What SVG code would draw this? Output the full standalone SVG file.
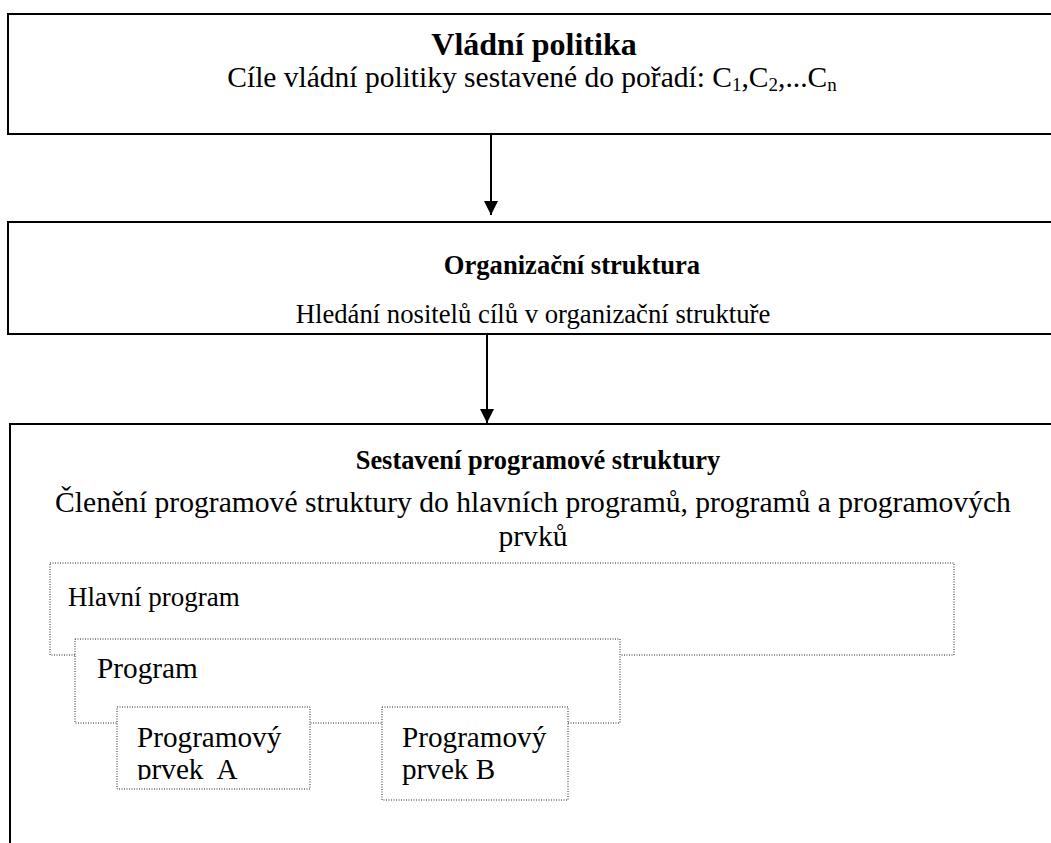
<svg xmlns="http://www.w3.org/2000/svg" width="1051" height="843" viewBox="0 0 1051 843">
  <style>
    .frame { fill: #fff; stroke: #000; stroke-width: 2; }
    .dot { fill: #fff; stroke: #222; stroke-width: 1; stroke-dasharray: 1 1.5; }
    .wire { stroke: #000; stroke-width: 2; fill: none; }
    text { font-family: "Liberation Serif", "Times New Roman", serif; fill: #000; }
    .b { font-weight: bold; }
  </style>
  <defs>
    <marker id="head" viewBox="0 0 14 14" markerWidth="14" markerHeight="14" refX="14" refY="7" orient="auto" markerUnits="userSpaceOnUse">
      <path d="M0,0 L14,7 L0,14 Z" fill="#000"/>
    </marker>
    <clipPath id="clipA">
      <rect x="117" y="707" width="193" height="73"/>
    </clipPath>
  </defs>
  <rect width="1051" height="843" fill="#fff"/>

  <!-- government policy -->
  <g id="vladni-politika">
    <rect class="frame" x="8" y="14" width="1060" height="120"/>
    <text class="b" x="534" y="55" font-size="32" text-anchor="middle">Vládní politika</text>
    <text x="532" y="87" font-size="29.5" text-anchor="middle">Cíle vládní politiky sestavené do pořadí: C<tspan font-size="19" dy="4">1</tspan><tspan dy="-4">,C</tspan><tspan font-size="19" dy="4">2</tspan><tspan dy="-4">,...C</tspan><tspan font-size="19" dy="4">n</tspan></text>
  </g>

  <!-- organisational structure -->
  <g id="organizacni-struktura">
    <rect class="frame" x="8" y="222" width="1060" height="112"/>
    <text class="b" x="572" y="274" font-size="26.6" text-anchor="middle">Organizační struktura</text>
    <text x="533" y="323" font-size="26.7" text-anchor="middle">Hledání nositelů cílů v organizační struktuře</text>
  </g>

  <!-- programme structure -->
  <g id="programova-struktura">
    <rect class="frame" x="10" y="424" width="1060" height="440"/>
    <text class="b" x="538" y="469" font-size="26.4" text-anchor="middle">Sestavení programové struktury</text>
    <text x="533" y="512" font-size="29.6" text-anchor="middle">Členění programové struktury do hlavních programů, programů a programových</text>
    <text x="533" y="546" font-size="29.6" text-anchor="middle">prvků</text>
  </g>

  <g id="hlavni-program">
    <rect class="dot" x="50" y="563" width="904" height="92"/>
    <text x="68" y="606" font-size="27">Hlavní program</text>
  </g>

  <g id="program">
    <rect class="dot" x="75" y="639" width="545" height="84"/>
    <text x="97" y="678" font-size="29.3">Program</text>
  </g>

  <g id="prvek-a">
    <rect class="dot" x="117" y="707" width="193" height="82"/>
    <g clip-path="url(#clipA)">
      <text x="137" y="747" font-size="29.2">Programový</text>
      <text x="137" y="779" font-size="29.2" xml:space="preserve">prvek  A</text>
    </g>
  </g>

  <g id="prvek-b">
    <rect class="dot" x="382" y="707" width="186" height="93"/>
    <text x="402" y="747" font-size="29.2">Programový</text>
    <text x="402" y="779" font-size="29.2">prvek B</text>
  </g>

  <!-- connectors -->
  <g id="connectors">
    <line class="wire" x1="491" y1="135" x2="491" y2="215" marker-end="url(#head)"/>
    <line class="wire" x1="487" y1="335" x2="487" y2="423" marker-end="url(#head)"/>
  </g>
</svg>
